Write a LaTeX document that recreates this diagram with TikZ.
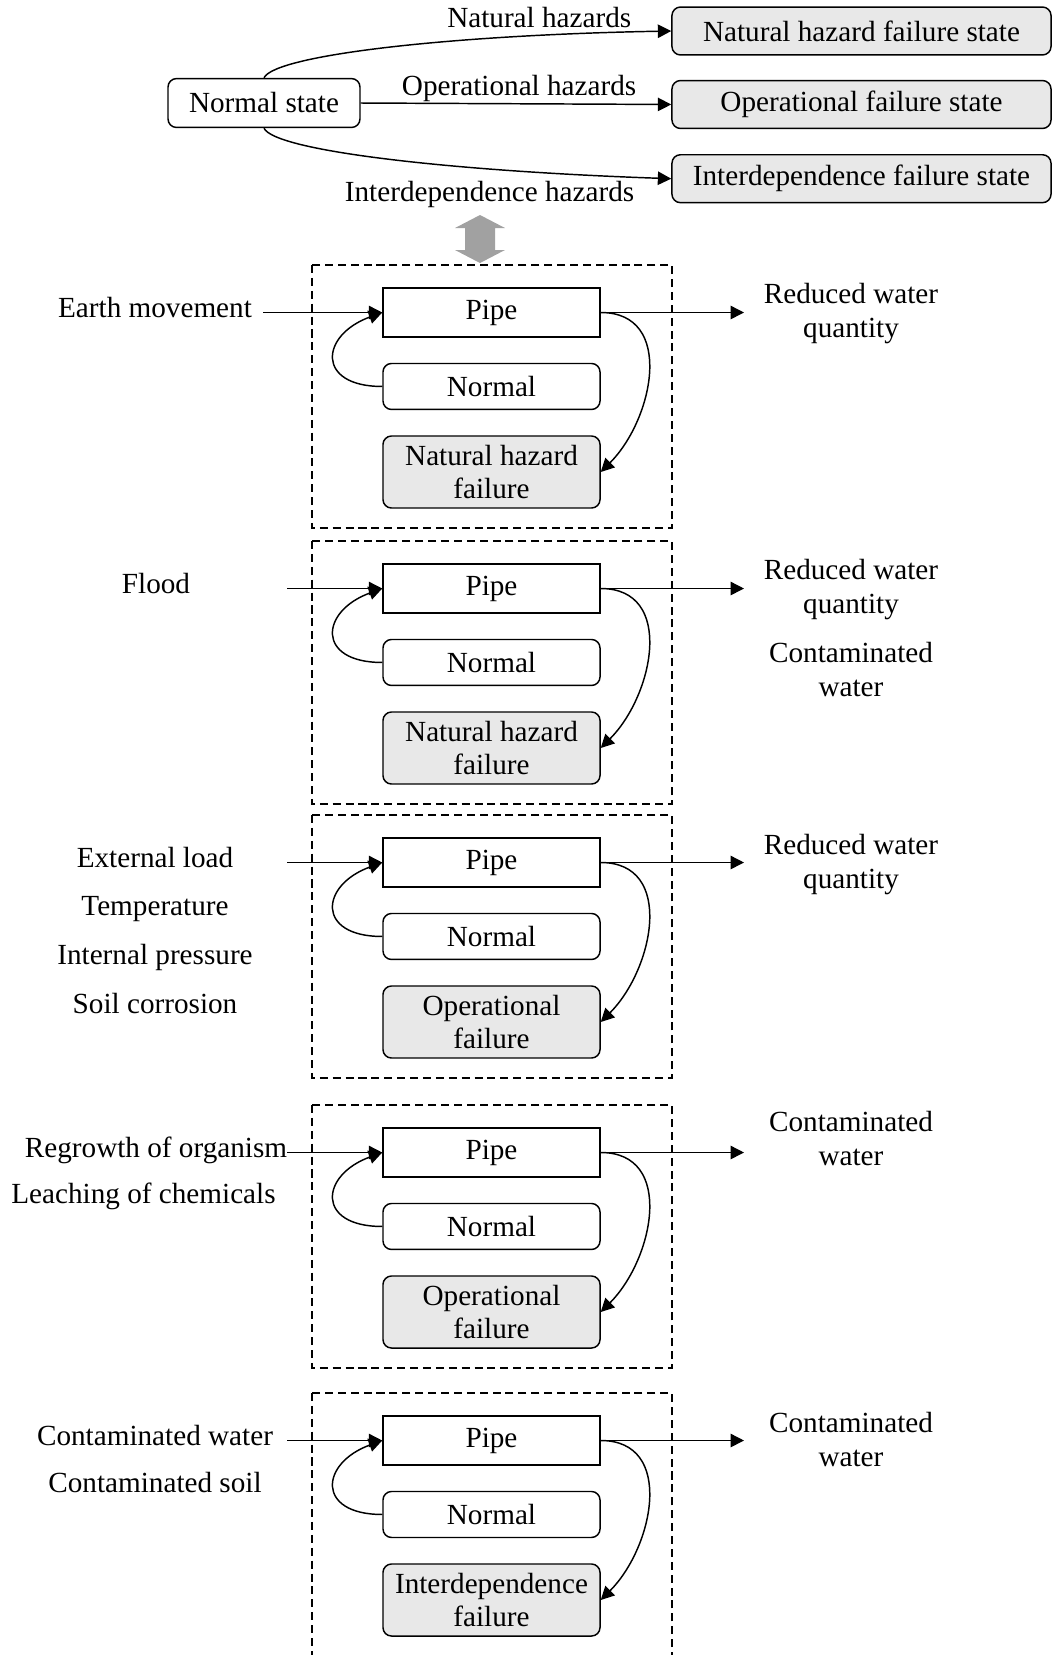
\documentclass[tikz,border=0pt]{standalone}
\usepackage{fontspec}
\setmainfont{Liberation Serif}
\usetikzlibrary{arrows.meta, positioning, topaths}
\begin{document}
\begin{tikzpicture}[x=0.411pt, y=0.411pt, line width=0.6pt, font=\fontsize{12}{13.6}\selectfont,
    >={Triangle[length=5.5pt, width=5.5pt]},
    statebox/.style={draw, rounded corners=3.5pt, inner sep=1pt, minimum height=20.1pt},
    failstate/.style={statebox, fill=black!9, minimum width=155.8pt, minimum height=19.7pt},
    pipebox/.style={draw, minimum width=89.2pt, minimum height=20.1pt, inner sep=1pt},
    normbox/.style={statebox, minimum width=89.2pt, minimum height=18.9pt},
    failbox/.style={statebox, fill=black!9, minimum width=89.2pt, minimum height=29.6pt, align=center},
    groupbox/.style={line width=0.5pt, dash pattern=on 3.3pt off 2pt},
    hazard/.style={anchor=base east, inner sep=0pt},
    cause/.style={anchor=base},
    effect/.style={anchor=base, align=center}]
  \useasboundingbox (0,0) rectangle (1053,-1655);
  \node[statebox, minimum width=78.9pt] (ns) at (264,-103) {Normal state};
  \node[failstate] (nhf) at (861.5,-31) {Natural hazard failure state};
  \node[failstate, below=9.9pt of nhf] (opf) {Operational failure state};
  \node[failstate, below=10.2pt of opf] (idf) {Interdependence failure state};
  \draw[->] (ns.north) .. controls (275,-55) and (450,-35) .. (nhf.west);
  \draw[->] (ns.east) -- (opf.west);
  \draw[->] (ns.south) .. controls (275,-151) and (450,-171) .. (idf.west);
  \node[hazard] (lnh) at (632,-27) {Natural hazards};
  \node[hazard] (lop) at (637,-95) {Operational hazards};
  \node[hazard] (lid) at (635,-201) {Interdependence hazards};
  \fill[black!37] (480,-215) -- (505,-228) -- (495,-228) -- (495,-250) -- (505,-250) -- (480,-263)
    -- (455,-250) -- (465,-250) -- (465,-228) -- (455,-228) -- cycle;
  \foreach \i/\my/\xin/\fail in {1/265/263/{Natural hazard\\failure}, 2/541/287/{Natural hazard\\failure},
      3/815/287/{Operational\\failure}, 4/1105/287/{Operational\\failure}, 5/1393/287/{Interdependence\\failure}}{
    \draw[groupbox] (312,-\my) rectangle (672,-\my-263);
    \node[pipebox] (pipe\i) at (491.5,-\my-47.5) {Pipe};
    \node[normbox, below=10.3pt of pipe\i] (norm\i) {Normal};
    \node[failbox, below=10.3pt of norm\i] (fail\i) {\fail};
    \coordinate (in\i) at (\xin,-\my-47.5);
    \coordinate (out\i) at (744,-\my-47.5);
    \draw[->] (in\i) -- (pipe\i.west);
    \draw[->] (pipe\i.east) -- (out\i);
    \draw[->] (norm\i.west) to[out=180, in=200, looseness=2.3] (pipe\i.west);
    \draw[->] (pipe\i.east) to[out=0, in=45, looseness=1.2] (fail\i.east);
  }
  \node[cause] (em) at (155,-317) {Earth movement};
  \node[cause] (fl) at (156,-593) {Flood};
  \node[cause] (el) at (155,-867) {External load};
  \node[cause] (tp) at (155,-915) {Temperature};
  \node[cause] (ip) at (155,-964) {Internal pressure};
  \node[cause] (sc) at (155,-1013) {Soil corrosion};
  \node[cause] (ro) at (156,-1157) {Regrowth of organism};
  \node[cause] (lc) at (143.5,-1203) {Leaching of chemicals};
  \node[cause] (cw) at (155,-1445) {Contaminated water};
  \node[cause] (cs) at (155,-1492) {Contaminated soil};
  \node[effect] (rq1) at (851,-337) {Reduced water\\quantity};
  \node[effect] (rq2) at (851,-613) {Reduced water\\quantity};
  \node[effect] (cw2) at (851,-696) {Contaminated\\water};
  \node[effect] (rq3) at (851,-888) {Reduced water\\quantity};
  \node[effect] (cw4) at (851,-1165) {Contaminated\\water};
  \node[effect] (cw5) at (851,-1466) {Contaminated\\water};
\end{tikzpicture}
\end{document}
